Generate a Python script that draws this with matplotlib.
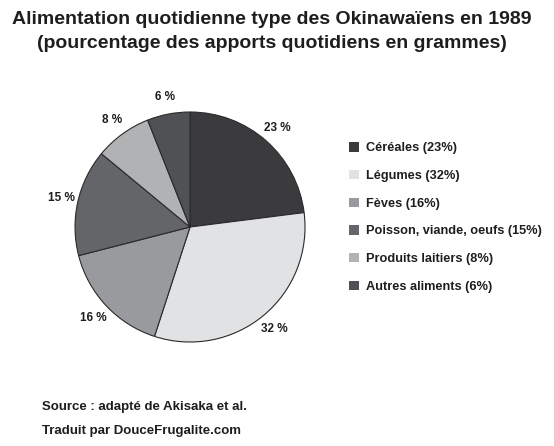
import matplotlib.pyplot as plt
from matplotlib.patches import Patch

categories = ["Céréales", "Légumes", "Fèves", "Poisson, viande, oeufs",
              "Produits laitiers", "Autres aliments"]
values = [23, 32, 16, 15, 8, 6]
colors = ["#3b3b3d", "#e1e2e4", "#999a9d", "#646569", "#b1b2b4", "#505154"]

plt.rcParams['font.family'] = ['Liberation Sans', 'DejaVu Sans']

fig = plt.figure(figsize=(5.54, 4.46), dpi=100)
fig.patch.set_facecolor("white")

fig.text(0.491, 0.976, "Alimentation quotidienne type des Okinawaïens en 1989\n"
         "(pourcentage des apports quotidiens en grammes)",
         ha="center", va="top", fontsize=14, fontweight="bold",
         color="#1e1e1e", linespacing=1.55)

ax = fig.add_axes([0.0835, 0.1687, 0.519, 0.6446])
wedges, texts = ax.pie(values, colors=colors, startangle=90, counterclock=False,
                       labels=[f"{v} %" for v in values], labeldistance=1.15,
                       wedgeprops=dict(edgecolor="#2a2a2a", linewidth=0.8),
                       textprops=dict(fontsize=8.5, fontweight="bold", color="#1e1e1e"))
for t in texts:
    t.set_ha("center")
    t.set_va("center")
ax.set_xlim(-1.25, 1.25)
ax.set_ylim(-1.25, 1.25)

handles = [Patch(facecolor=c, edgecolor="none") for c in colors]
labels = [f"{n} ({v}%)" for n, v in zip(categories, values)]
fig.legend(handles, labels, loc="upper left", bbox_to_anchor=(0.61, 0.707),
           frameon=False, handlelength=0.75, handleheight=0.75, handletextpad=0.55,
           labelspacing=1.22, prop=dict(size=9.2, weight="bold"),
           labelcolor="#1e1e1e")

fig.text(0.076, 0.088, "Source : adapté de Akisaka et al.", fontsize=9.5,
         fontweight="bold", color="#1e1e1e", va="center")
fig.text(0.076, 0.034, "Traduit par DouceFrugalite.com", fontsize=9.5,
         fontweight="bold", color="#1e1e1e", va="center")

plt.savefig("out.png", dpi=100)
